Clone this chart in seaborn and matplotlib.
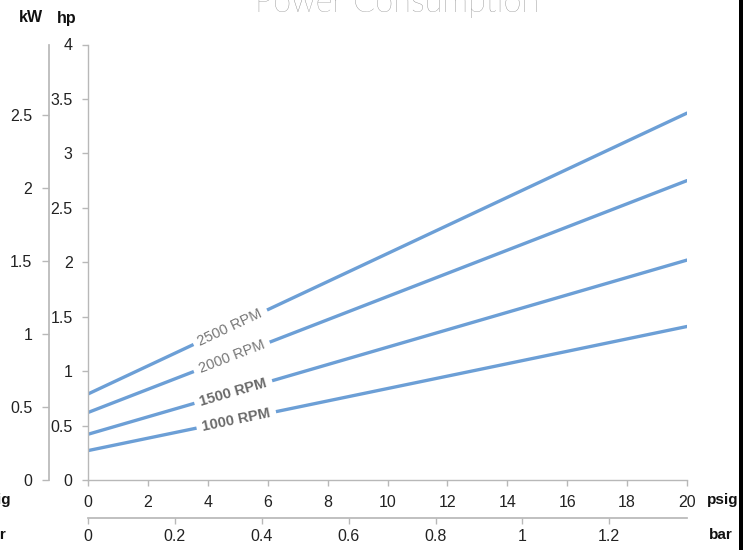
import numpy as np
import pandas as pd
import matplotlib
matplotlib.use("Agg")
import matplotlib.pyplot as plt
import seaborn as sns
from matplotlib.patches import Rectangle

# data (hp at 0 and 20 psig)
psig = [0, 20]
rpm_labels = ["1000 RPM", "1500 RPM", "2000 RPM", "2500 RPM"]
hp_1000 = [0.27, 1.41]
hp_1500 = [0.42, 2.02]
hp_2000 = [0.62, 2.75]
hp_2500 = [0.79, 3.37]
label_at = [4.95, 4.85, 4.8, 4.75]

hp_ticks = [0, 0.5, 1, 1.5, 2, 2.5, 3, 3.5, 4]
kw_ticks = [0, 0.5, 1, 1.5, 2, 2.5]
psig_ticks = [0, 2, 4, 6, 8, 10, 12, 14, 16, 18, 20]
bar_ticks = [0, 0.2, 0.4, 0.6, 0.8, 1, 1.2]

HP_TO_KW = 0.7457
PSIG_TO_BAR = 0.0689476

blue = '#6c9fd6'
grey = '#b8b8b8'
tick_fs = 11.5

sns.set_theme(style="white")
plt.rcParams['font.family'] = ['Liberation Sans', 'DejaVu Sans']

series = [hp_1000, hp_1500, hp_2000, hp_2500]
rows = []
for name, vals in zip(rpm_labels, series):
    for p, h in zip(psig, vals):
        rows.append({'rpm': name, 'psig': p, 'hp': h})
df = pd.DataFrame(rows)

W, H = 754, 550
fig = plt.figure(figsize=(7.54, 5.5), dpi=100)
ax = fig.add_axes([88/W, 1-480/H, (687-88)/W, (480-44.5)/H])

sns.lineplot(data=df, x='psig', y='hp', units='rpm', estimator=None,
             color=blue, linewidth=2.4, ax=ax, legend=False)

ax.set_xlim(0, 20)
ax.set_ylim(0, 4)
ax.set_xticks(psig_ticks)
ax.set_yticks(hp_ticks)
ax.set_yticklabels([f"{t:g}" for t in hp_ticks])
ax.set_xlabel('')
ax.set_ylabel('')
for s in ['top', 'right']:
    ax.spines[s].set_visible(False)
for s in ['left', 'bottom']:
    ax.spines[s].set_color(grey)
    ax.spines[s].set_linewidth(1)
ax.tick_params(axis='x', bottom=True, direction='out', length=4, width=1,
               color=grey, labelsize=tick_fs, pad=7, labelcolor='#222222')
ax.tick_params(axis='y', left=True, direction='out', length=4, width=1,
               color=grey, labelsize=tick_fs, pad=7, labelcolor='#222222')

# kW axis on the far left
kw = ax.secondary_yaxis(-39/599, functions=(lambda h: h*HP_TO_KW, lambda k: k/HP_TO_KW))
kw.set_yticks(kw_ticks)
kw.set_yticklabels([f"{t:g}" for t in kw_ticks])
kw.spines['left'].set_color(grey)
kw.tick_params(axis='y', left=True, direction='out', length=5, width=1,
               color=grey, labelsize=tick_fs, pad=7, labelcolor='#222222')

# bar axis below
bar = ax.secondary_xaxis(-38/435.5, functions=(lambda p: p*PSIG_TO_BAR, lambda b: b/PSIG_TO_BAR))
bar.set_xticks(bar_ticks)
bar.set_xticklabels([f"{t:g}" for t in bar_ticks])
bar.spines['bottom'].set_color(grey)
bar.tick_params(axis='x', bottom=True, direction='out', length=4, width=1,
                color=grey, labelsize=tick_fs, pad=4, labelcolor='#222222')

# inline labels on the lines
fig.canvas.draw()
for i, (name, vals) in enumerate(zip(rpm_labels, series)):
    x0 = label_at[i]
    y0 = np.interp(x0, psig, vals)
    p1 = ax.transData.transform((psig[0], vals[0]))
    p2 = ax.transData.transform((psig[-1], vals[-1]))
    ang = np.degrees(np.arctan2(p2[1]-p1[1], p2[0]-p1[0]))
    bold = i < 2
    ax.text(x0, y0, name, rotation=ang, rotation_mode='anchor',
            ha='center', va='center', fontsize=10.5,
            fontweight='bold' if bold else 'normal',
            color='#6a6a6a' if bold else '#777777',
            bbox=dict(boxstyle='square,pad=0.4', fc='white', ec='none'),
            zorder=5)

# title and unit labels
fig.text(397/W, 1-12/H, 'Power Consumption', ha='center', va='baseline',
         fontsize=23.5, color='#7d7d7d', family=['Lato', 'DejaVu Sans'], fontweight='light')
fig.text(31/W, 1-18/H, 'kW', ha='center', va='center', fontsize=11.5, fontweight='bold', color='#111111')
fig.text(67/W, 1-18/H, 'hp', ha='center', va='center', fontsize=11.5, fontweight='bold', color='#111111')
fig.text(707/W, 1-500/H, 'psig', ha='left', va='center', fontsize=11, fontweight='bold', color='#111111')
fig.text(709/W, 1-535/H, 'bar', ha='left', va='center', fontsize=11, fontweight='bold', color='#111111')
fig.text(11/W, 1-500/H, 'psig', ha='right', va='center', fontsize=11, fontweight='bold', color='#111111')
fig.text(7/W, 1-535/H, 'bar', ha='right', va='center', fontsize=11, fontweight='bold', color='#111111')

# dark strip at the right edge
fig.add_artist(Rectangle((739/W, 0), 4/W, 1, transform=fig.transFigure,
                         facecolor='black', edgecolor='none'))

fig.savefig('out.png', dpi=100)
